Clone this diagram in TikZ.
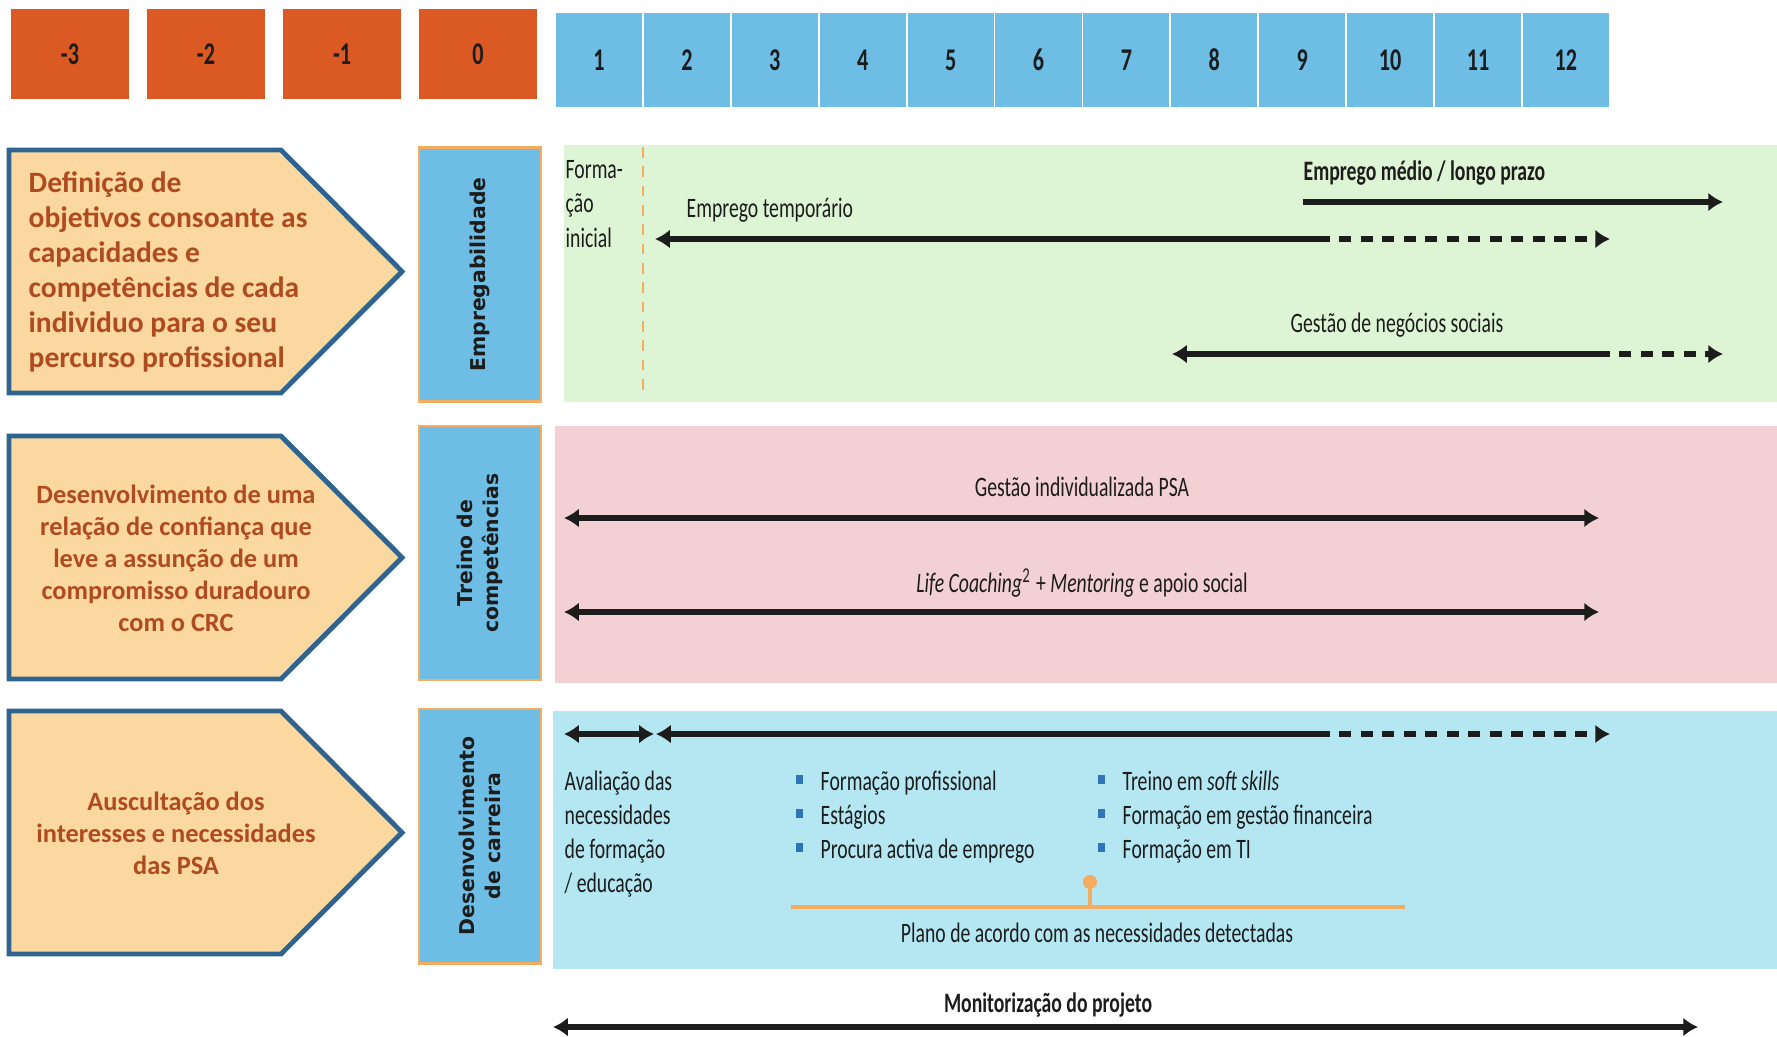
\documentclass[tikz,border=0pt]{standalone}
\usepackage{xcolor}
\usepackage{fontspec}
\setmainfont{Carlito}
\newfontfamily\estreita[FakeStretch=0.7]{Carlito}
\newfontfamily\largafont{DejaVu Sans}
\usetikzlibrary{arrows.meta}

\definecolor{laranja}{RGB}{219,89,34}
\definecolor{azulmes}{RGB}{110,189,229}
\definecolor{creme}{RGB}{250,216,160}
\definecolor{azulborda}{RGB}{46,100,143}
\definecolor{castanho}{RGB}{176,74,32}
\definecolor{verdeclaro}{RGB}{222,245,213}
\definecolor{rosa}{RGB}{243,208,211}
\definecolor{ciano}{RGB}{180,231,242}
\definecolor{laranjaclaro}{RGB}{244,172,96}
\definecolor{azulmarca}{RGB}{46,117,182}
\definecolor{escuro}{RGB}{28,28,28}

\newcommand{\marca}{\makebox[0.25cm][l]{\textcolor{azulmarca}{\rule[0.45ex]{2.2pt}{2.6pt}}}}

\begin{document}
\begin{tikzpicture}[x=0.01cm,y=-0.01cm,
    seta/.style={escuro,line width=1.5pt,-{Latex[length=4.2pt,width=5.4pt]}},
    setadupla/.style={escuro,line width=1.5pt,{Latex[length=4.2pt,width=5.4pt]}-{Latex[length=4.2pt,width=5.4pt]}},
    tracejado/.style={dash pattern=on 3.4pt off 2.7pt},
    mesbox/.style={inner sep=0pt,text=escuro,font=\estreita\bfseries\fontsize{9}{10}\selectfont},
    eixobox/.style={fill=azulmes,draw=laranjaclaro,line width=0.8pt,rotate=90,
        minimum width=2.54cm,minimum height=1.22cm,align=center,inner sep=0pt,
        text=escuro,font=\largafont\bfseries\fontsize{5.8}{7.2}\selectfont},
    pentagono/.style={fill=creme,draw=azulborda,line width=1.4pt,line join=miter},
    textopent/.style={text=castanho,inner sep=0pt},
    textolinha/.style={text=escuro,inner sep=0pt,font=\estreita\fontsize{8}{9.7}\selectfont},
    textonegrito/.style={text=escuro,inner sep=0pt,font=\estreita\bfseries\fontsize{8}{9.7}\selectfont}
]
    \useasboundingbox (0,0) rectangle (1777,1036);

    % 定义点变量 (meses)
    \foreach \n [count=\i from 0] in {-3,-2,-1,0}
        \node[mesbox,fill=laranja,minimum width=1.18cm,minimum height=0.90cm] (neg\i) at (70+136*\i,54) {\n};
    \foreach \n in {1,...,12}
        \node[mesbox,fill=azulmes,minimum width=0.86cm,minimum height=0.93cm] (mes\n) at (599+87.9*\n-87.9,60) {\n};

    % faixas
    \fill[verdeclaro] (564,145) rectangle (1777,402);
    \fill[rosa] (555,426) rectangle (1777,683);
    \fill[ciano] (553,711) rectangle (1777,969);

    \node[eixobox] (emp) at (480,274.5) {Empregabilidade};
    \node[eixobox] (tre) at (480,553) {Treino de\\competências};
    \node[eixobox] (dcar) at (480,836) {Desenvolvimento\\de carreira};

    % setas grandes
    \foreach \yt in {150,436,711}
        \draw[pentagono] (9,\yt) -- (281,\yt) -- (402,\yt+121.5) -- (281,\yt+243) -- (9,\yt+243) -- cycle;

    \node[textopent,anchor=west,align=left,font=\bfseries\fontsize{8.4}{10}\selectfont] (obj) at (28,272)
        {Definição de\\objetivos consoante as\\capacidades e\\competências de cada\\individuo para o seu\\percurso profissional};
    \node[textopent,align=center,font=\bfseries\fontsize{7.5}{9.1}\selectfont] (conf) at (176,558)
        {Desenvolvimento de uma\\relação de confiança que\\leve a assunção de um\\compromisso duradouro\\com o CRC};
    \node[textopent,align=center,font=\bfseries\fontsize{7.5}{9.1}\selectfont] (ausc) at (176,833)
        {Auscultação dos\\interesses e necessidades\\das PSA};

    % Empregabilidade
    \coordinate (et1) at (655,239);
    \coordinate (et2) at (1318,239);
    \coordinate (et3) at (1610,239);
    \coordinate (ml1) at (1303,202);
    \coordinate (ml2) at (1723,202);
    \coordinate (gn1) at (1172,354);
    \coordinate (gn2) at (1598,354);
    \coordinate (gn3) at (1723,354);
    \coordinate (fi1) at (643,147);
    \coordinate (fi2) at (643,397);

    \draw[laranjaclaro,line width=0.8pt,dash pattern=on 3pt off 2.5pt] (fi1) -- (fi2);
    \node[textolinha,anchor=west,align=left] (form) at (565,204) {Forma-\\ção\\inicial};
    \node[textolinha,anchor=west] (tempo) at (686,210) {Emprego temporário};
    \draw[seta] (et2) -- (et1);
    \draw[seta,tracejado] (et2) -- (et3);
    \node[textonegrito,anchor=west] (medio) at (1303,173) {Emprego médio / longo prazo};
    \draw[seta] (ml1) -- (ml2);
    \node[textolinha] (negoc) at (1397,325) {Gestão de negócios sociais};
    \draw[seta] (gn2) -- (gn1);
    \draw[seta,tracejado] (gn2) -- (gn3);

    % Treino de competências
    \coordinate (gi1) at (564,518);
    \coordinate (gi2) at (1599,518);
    \coordinate (lc1) at (564,612);
    \coordinate (lc2) at (1599,612);

    \node[textolinha] (gest) at (1082,487) {Gestão individualizada PSA};
    \draw[setadupla] (gi1) -- (gi2);
    \node[textolinha] (life) at (1082,583) {{\itshape Life Coaching}\textsuperscript{2}\,+ {\itshape Mentoring} e apoio social};
    \draw[setadupla] (lc1) -- (lc2);

    % Desenvolvimento de carreira
    \coordinate (av1) at (564,734);
    \coordinate (av2) at (654,734);
    \coordinate (dc1) at (656,734);
    \coordinate (dc2) at (1318,734);
    \coordinate (dc3) at (1610,734);
    \coordinate (pl1) at (791,907);
    \coordinate (pl2) at (1405,907);
    \coordinate (pino) at (1090,907);
    \coordinate (pinotopo) at (1090,882);

    \draw[setadupla] (av1) -- (av2);
    \draw[seta] (dc2) -- (dc1);
    \draw[seta,tracejado] (dc2) -- (dc3);
    \node[textolinha,anchor=west,align=left] (aval) at (564,834)
        {Avaliação das\\necessidades\\de formação\\/ educação};
    \node[textolinha,anchor=west,align=left] (lista1) at (795,817)
        {\marca Formação profissional\\\marca Estágios\\\marca Procura activa de emprego};
    \node[textolinha,anchor=west,align=left] (lista2) at (1097,817)
        {\marca Treino em {\itshape soft skills}\\\marca Formação em gestão financeira\\\marca Formação em TI};
    \draw[laranjaclaro,line width=1pt] (pl1) -- (pl2);
    \draw[laranjaclaro,line width=1pt] (pino) -- (pinotopo);
    \fill[laranjaclaro] (pinotopo) circle (2pt);
    \node[textolinha] (plano) at (1097,933) {Plano de acordo com as necessidades detectadas};

    % Monitorização
    \coordinate (mo1) at (553,1027);
    \coordinate (mo2) at (1698,1027);
    \node[textonegrito] (monit) at (1048,1005) {Monitorização do projeto};
    \draw[setadupla] (mo1) -- (mo2);

\end{tikzpicture}
\end{document}
